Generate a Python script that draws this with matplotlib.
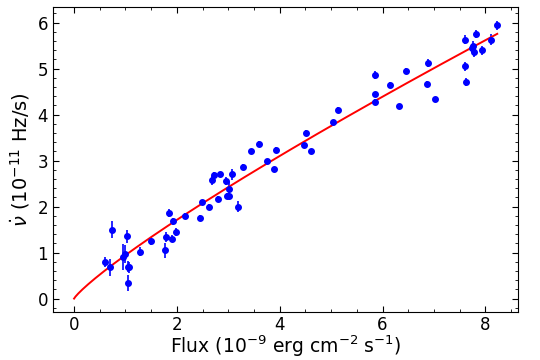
import numpy as np
import matplotlib
matplotlib.use("Agg")
import matplotlib.pyplot as plt
from matplotlib.ticker import MultipleLocator

# flux (1e-9 erg/cm2/s), spin-up rate (1e-11 Hz/s), error on spin-up
flux = [0.60, 0.69, 0.73, 0.95, 0.99, 1.03, 1.04, 1.07, 1.05,
        1.29, 1.49, 1.76, 1.79, 1.84, 1.90, 1.92, 1.98, 2.16,
        2.45, 2.48, 2.63, 2.68, 2.73, 2.84, 2.79, 2.95, 2.97, 3.02,
        3.01, 3.07, 3.19, 3.29, 3.45, 3.60, 3.75, 3.88, 3.92,
        4.47, 4.51, 4.60, 5.04, 5.14, 5.86, 5.85, 5.86, 6.14,
        6.32, 6.46, 6.86, 6.88, 7.01, 7.60, 7.62, 7.60, 7.81,
        7.76, 7.74, 7.78, 7.94, 8.10, 8.23]
nudot = [0.80, 0.68, 1.50, 0.90, 0.97, 1.35, 0.69, 0.68, 0.34,
         1.02, 1.25, 1.05, 1.34, 1.86, 1.30, 1.68, 1.45, 1.79,
         1.76, 2.09, 2.00, 2.57, 2.69, 2.70, 2.16, 2.56, 2.24, 2.22,
         2.39, 2.70, 2.00, 2.87, 3.20, 3.37, 2.99, 2.82, 3.24,
         3.33, 3.60, 3.20, 3.84, 4.10, 4.86, 4.44, 4.28, 4.64,
         4.18, 4.95, 4.67, 5.12, 4.33, 5.63, 4.71, 5.05, 5.75,
         5.50, 5.44, 5.35, 5.40, 5.63, 5.94]
nudot_err = [0.11, 0.18, 0.19, 0.28, 0.20, 0.15, 0.12, 0.12, 0.17,
             0.10, 0.08, 0.16, 0.10, 0.08, 0.08, 0.08, 0.08, 0.06,
             0.06, 0.06, 0.06, 0.10, 0.06, 0.06, 0.06, 0.08, 0.06, 0.06,
             0.15, 0.12, 0.12, 0.05, 0.05, 0.06, 0.05, 0.05, 0.05,
             0.05, 0.06, 0.05, 0.05, 0.06, 0.08, 0.06, 0.06, 0.06,
             0.05, 0.07, 0.06, 0.09, 0.06, 0.09, 0.08, 0.10, 0.08,
             0.10, 0.10, 0.10, 0.10, 0.12, 0.10]

# power-law fit nudot = A * F^(6/7)
fit_norm = 0.945
fit_index = 6.0 / 7.0

fig, ax = plt.subplots(figsize=(5.4, 3.6), dpi=100)
fig.subplots_adjust(left=0.098, right=0.960, bottom=0.132, top=0.981)

ax.errorbar(flux, nudot, yerr=nudot_err, fmt="o", color="blue",
            ecolor="blue", markersize=4, elinewidth=1.2, capsize=0)

fgrid = np.linspace(0, max(flux), 300)
ax.plot(fgrid, fit_norm * fgrid ** fit_index, color="red", lw=1.4)

ax.set_xlabel(r"Flux (10$^{-9}$ erg cm$^{-2}$ s$^{-1}$)", fontsize=13.5, labelpad=-0.5)
ax.set_ylabel(r"$\dot{\nu}$ (10$^{-11}$ Hz/s)", fontsize=14, labelpad=4)

ax.xaxis.set_major_locator(MultipleLocator(2))
ax.xaxis.set_minor_locator(MultipleLocator(0.5))
ax.yaxis.set_major_locator(MultipleLocator(1))
ax.yaxis.set_minor_locator(MultipleLocator(0.2))
ax.tick_params(which="both", direction="in", top=True, right=True, labelsize=12)
ax.tick_params(axis="x", pad=2.5)
ax.tick_params(which="major", length=4.5)
ax.tick_params(which="minor", length=2.2)

plt.savefig("out.png")
